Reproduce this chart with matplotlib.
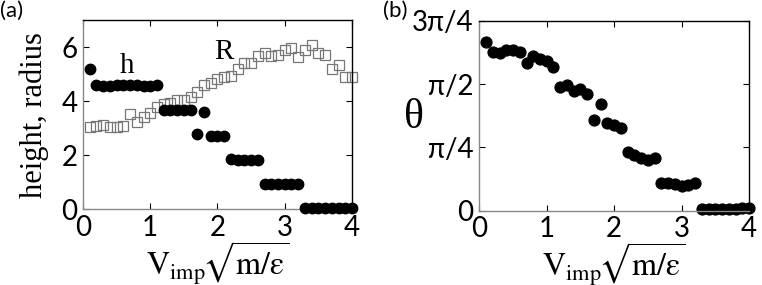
import numpy as np
import matplotlib
matplotlib.use("Agg")
import matplotlib.pyplot as plt

plt.rcParams['mathtext.fontset'] = 'stix'

# ---- data ----
v = [0.1, 0.2, 0.3, 0.4, 0.5, 0.6, 0.7, 0.8, 0.9, 1.0,
     1.1, 1.2, 1.3, 1.4, 1.5, 1.6, 1.7, 1.8, 1.9, 2.0,
     2.1, 2.2, 2.3, 2.4, 2.5, 2.6, 2.7, 2.8, 2.9, 3.0,
     3.1, 3.2, 3.3, 3.4, 3.5, 3.6, 3.7, 3.8, 3.9, 4.0]

height = [5.2, 4.58, 4.57, 4.57, 4.6, 4.6, 4.58, 4.58, 4.57, 4.57,
          4.58, 3.67, 3.67, 3.66, 3.66, 3.66, 2.77, 3.6, 2.72, 2.72,
          2.72, 1.85, 1.84, 1.84, 1.84, 1.84, 0.95, 0.95, 0.95, 0.95,
          0.95, 0.95, 0.05, 0.05, 0.05, 0.05, 0.05, 0.05, 0.05, 0.05]

radius = [3.03, 3.08, 3.1, 3.03, 3.03, 3.08, 3.52, 3.24, 3.42, 3.55,
          3.77, 3.89, 3.92, 4.04, 4.04, 4.16, 4.35, 4.6, 4.66, 4.82,
          4.9, 4.93, 5.2, 5.4, 5.4, 5.67, 5.76, 5.67, 5.7, 5.89,
          5.95, 5.64, 5.89, 6.07, 5.76, 5.7, 5.2, 5.33, 4.9, 4.9]

# theta in units of pi/4
theta_q = [2.66, 2.5, 2.49, 2.54, 2.54, 2.5, 2.33, 2.44, 2.39, 2.36,
           2.27, 1.96, 1.98, 1.89, 1.93, 1.85, 1.43, 1.69, 1.38, 1.35,
           1.3, 0.93, 0.88, 0.83, 0.8, 0.84, 0.43, 0.43, 0.42, 0.39,
           0.4, 0.44, 0.03, 0.03, 0.03, 0.03, 0.03, 0.03, 0.04, 0.04]

xticks = [0, 1, 2, 3, 4]
yticks_a = [0, 2, 4, 6]
yticks_b_q = [0, 1, 2, 3]
yticklabels_b = ['0', 'π/4', 'π/2', '3π/4']

theta = np.array(theta_q) * np.pi / 4

fig = plt.figure(figsize=(7.62, 2.85), dpi=100)
axa = fig.add_axes([0.1089, 0.2656, 0.3530, 0.6644])
axb = fig.add_axes([0.6290, 0.2607, 0.3540, 0.6663])

sans = ['Lato', 'DejaVu Sans']
serif = ['Liberation Serif', 'DejaVu Serif']
xlab = r'$\mathrm{V_{imp}}\!\sqrt{\mathrm{m/ε}}$'

def style(ax):
    ax.tick_params(direction='in', length=4, width=0.8, top=True, right=True,
                   labelsize=20)
    ax.tick_params(axis='x', pad=4)
    ax.tick_params(axis='y', pad=4)
    for lab in ax.get_xticklabels() + ax.get_yticklabels():
        lab.set_family(sans)
    ax.spines['left'].set_color('#888888')
    ax.spines['bottom'].set_color('#888888')
    ax.spines['top'].set_color('black')
    ax.spines['right'].set_color('black')
    for s in ax.spines.values():
        s.set_linewidth(1.0)

# panel (a)
axa.plot(v, radius, linestyle='none', marker='s', markersize=7.5,
         markerfacecolor='none', markeredgecolor='#777777', markeredgewidth=0.9,
         zorder=2, clip_on=False)
axa.plot(v, height, linestyle='none', marker='o', markersize=7.5,
         color='black', zorder=3, clip_on=False)
axa.set_xlim(0, 4)
axa.set_ylim(0, 7)
axa.set_xticks(xticks)
axa.set_yticks(yticks_a)
style(axa)
axa.set_ylabel('height, radius', family=serif, fontsize=22)
axa.yaxis.set_label_coords(-0.125, 0.5)
axa.set_xlabel(xlab, fontsize=23, va='baseline')
axa.xaxis.set_label_coords(0.5, -0.35)
axa.text(0.66, 5.28, 'h', family=serif, fontsize=21, ha='center', va='center')
axa.text(2.09, 5.8, 'R', family=serif, fontsize=21, ha='center', va='center')
fig.text(0.0, 0.998, '(a)', family=sans, fontsize=16, ha='left', va='top')

# panel (b)
axb.plot(v, theta, linestyle='none', marker='o', markersize=7.8,
         color='black', clip_on=False)
axb.set_xlim(0, 4)
axb.set_ylim(0, 3 * np.pi / 4)
axb.set_xticks(xticks)
axb.set_yticks(np.array(yticks_b_q) * np.pi / 4)
axb.set_yticklabels(yticklabels_b)
style(axb)
axb.set_ylabel('θ', family=serif, fontsize=30, rotation=0, va='center',
               ha='center')
axb.yaxis.set_label_coords(-0.242, 0.49)
axb.set_xlabel(xlab, fontsize=23, va='baseline')
axb.xaxis.set_label_coords(0.5, -0.345)
fig.text(0.502, 0.998, '(b)', family=sans, fontsize=16, ha='left', va='top')

fig.savefig('out.png', dpi=100)
